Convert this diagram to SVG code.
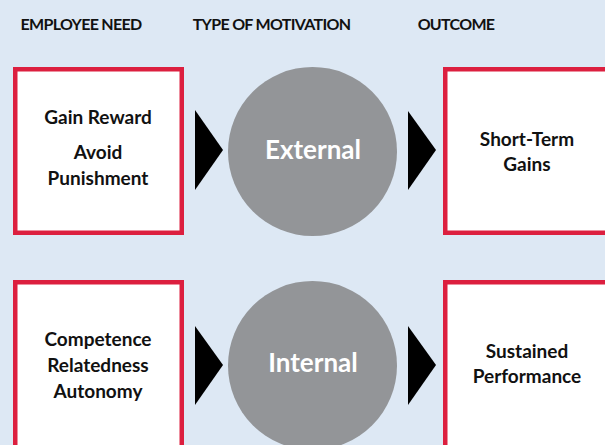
<svg xmlns="http://www.w3.org/2000/svg" width="605" height="445" viewBox="0 0 605 445">
<style>
.hdr{font-family:Lato,"Open Sans",sans-serif;font-weight:700;font-size:16px;fill:#111;letter-spacing:-0.7px;text-anchor:middle}
.box{fill:#fff;stroke:#dc1f3f;stroke-width:4.5}
.txt{font-family:Lato,"Open Sans",sans-serif;font-weight:700;font-size:19px;fill:#111;text-anchor:middle}
.circ{fill:#939598}
.ctxt{font-family:Lato,"Open Sans",sans-serif;font-weight:700;font-size:26px;fill:#fff;text-anchor:middle}
.arr{fill:#000}
</style>
<rect width="605" height="445" fill="#dde8f4"/>
<g id="headers">
<text class="hdr" x="81" y="30">EMPLOYEE NEED</text>
<text class="hdr" x="271.5" y="30">TYPE OF MOTIVATION</text>
<text class="hdr" x="456" y="30">OUTCOME</text>
</g>
<g id="need-external">
<rect class="box" x="15.25" y="69.25" width="166.5" height="163.5"/>
<text class="txt" x="98" y="124">Gain Reward</text>
<text class="txt" x="98" y="159">Avoid</text>
<text class="txt" x="98" y="185">Punishment</text>
</g>
<g id="external">
<circle class="circ" cx="312.5" cy="151.5" r="84.5"/>
<text class="ctxt" x="313" y="159">External</text>
</g>
<g id="outcome-external">
<rect class="box" x="445.25" y="69.25" width="166.5" height="163.5"/>
<text class="txt" x="527" y="146">Short-Term</text>
<text class="txt" x="527" y="171">Gains</text>
</g>
<g id="need-internal">
<rect class="box" x="15.25" y="282.25" width="166.5" height="180"/>
<text class="txt" x="98" y="346">Competence</text>
<text class="txt" x="98" y="372">Relatedness</text>
<text class="txt" x="98" y="398">Autonomy</text>
</g>
<g id="internal">
<circle class="circ" cx="312.5" cy="365.5" r="84.5"/>
<text class="ctxt" x="313" y="372">Internal</text>
</g>
<g id="outcome-internal">
<rect class="box" x="445.25" y="282.25" width="166.5" height="180"/>
<text class="txt" x="527" y="358">Sustained</text>
<text class="txt" x="527" y="383">Performance</text>
</g>
<g id="connectors">
<polygon class="arr" points="195,110 223,150 195,190"/>
<polygon class="arr" points="408,111 436,150 408,190"/>
<polygon class="arr" points="195,326 223,365 195,405"/>
<polygon class="arr" points="408,326 436,365 408,405"/>
</g>
</svg>
